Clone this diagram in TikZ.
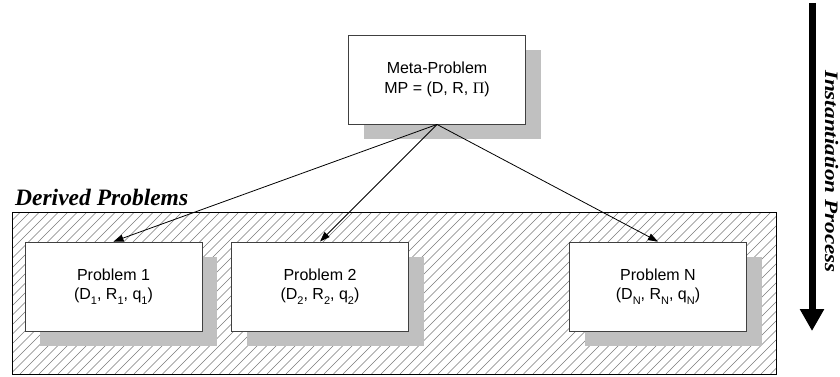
\documentclass[tikz,border=0pt]{standalone}
\usepackage{fontspec}
\setmainfont{Liberation Sans}
\newfontfamily\timesfont{Liberation Serif}
\usetikzlibrary{arrows.meta,shadows}
\definecolor{shadowgray}{HTML}{C0C0C0}
\definecolor{hatchgray}{HTML}{7A7A7A}
\definecolor{boxborder}{HTML}{404040}
\newcommand\sbsc[1]{\raisebox{-5pt}{\fontsize{11}{11}\selectfont #1}}
\tikzset{
  pbox/.style={draw=boxborder, line width=0.9pt, fill=white, minimum width=177pt, minimum height=89pt,
    inner sep=0pt, align=center, font=\fontsize{16}{19.5}\selectfont,
    general shadow={fill=shadowgray, draw=none, shadow xshift=15pt, shadow yshift=-15pt}},
  conn/.style={draw=black, line width=0.8pt, -{Triangle[length=10pt,width=7pt]}},
  hatchline/.style={draw=hatchgray, line width=0.5pt},
  titletext/.style={font=\timesfont\bfseries\itshape\fontsize{23.5}{26}\selectfont, inner sep=0pt},
  bigarrow/.style={draw=black, line width=7pt, -{Triangle[length=22pt,width=23pt]}}
}
\begin{document}
\begin{tikzpicture}[x=1pt,y=-1pt]
\useasboundingbox (0,0) rectangle (840,377);
% hatched region
\begin{scope}
  \clip (12,212) rectangle (776,374);
  \foreach \i in {-170,-160.5,...,780} {
    \draw[hatchline] (\i,374) -- ++(170,-170);
  }
\end{scope}
\node[draw=black, line width=0.9pt, minimum width=764pt, minimum height=162pt, inner sep=0pt] (derived) at (394,293) {};
\node[titletext, anchor=base west] (dtitle) at (15,205.5) {Derived Problems};
% boxes
\node[pbox] (meta) at (437,79.5) {Meta-Problem\\MP = (D, R, {\timesfont Π})};
\node[pbox] (p1) at (113.5,286.5) {Problem 1\\(D\sbsc{1}, R\sbsc{1}, q\sbsc{1})};
\node[pbox] (p2) at (320,286.5) {Problem 2\\(D\sbsc{2}, R\sbsc{2}, q\sbsc{2})};
\node[pbox] (pN) at (658,286.5) {Problem N\\(D\sbsc{N}, R\sbsc{N}, q\sbsc{N})};
% connectors
\draw[conn] (meta.south) -- (p1.north);
\draw[conn] (meta.south) -- (p2.north);
\draw[conn] (meta.south) -- (pN.north);
% instantiation arrow
\coordinate (ipTop) at (812,3);
\coordinate (ipBot) at (812,331);
\draw[bigarrow] (ipTop) -- (ipBot);
\node[font=\timesfont\bfseries\itshape\fontsize{19}{21}\selectfont, rotate=-90, inner sep=0pt] (iptext) at (831.5,171.5) {\scalebox{1.22}[1]{Instantiation Process}};
\end{tikzpicture}
\end{document}
